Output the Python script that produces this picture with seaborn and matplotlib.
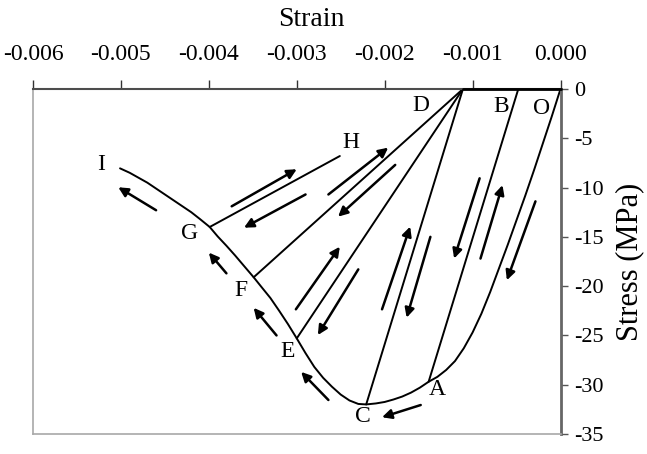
import matplotlib
matplotlib.use("Agg")
import matplotlib.pyplot as plt
import seaborn as sns
import pandas as pd

# ---------------- data ----------------
envelope_strain = [0.0, -0.0001, -0.0002, -0.0003, -0.0004, -0.0005, -0.0006, -0.0007,
                   -0.0008, -0.0009, -0.0010, -0.0011, -0.0012, -0.0013, -0.0014, -0.0015,
                   -0.0016, -0.0017, -0.0018, -0.0019, -0.0020, -0.0021, -0.00221,
                   -0.0023, -0.0024, -0.0025, -0.0026, -0.0027, -0.0028, -0.0029, -0.0030,
                   -0.0031, -0.0032, -0.0033, -0.0034, -0.00349, -0.0036, -0.0037, -0.0038,
                   -0.0039, -0.00399, -0.0041, -0.0042, -0.0043, -0.0044, -0.0045, -0.0046,
                   -0.0047, -0.0048, -0.0049, -0.00501]
envelope_stress = [0.0, -2.8, -5.5, -8.2, -10.8, -13.3, -15.8, -18.2,
                   -20.6, -22.8, -24.7, -26.3, -27.6, -28.5, -29.2, -29.7,
                   -30.3, -30.8, -31.2, -31.5, -31.75, -31.9, -32.0,
                   -31.95, -31.6, -31.0, -30.2, -29.3, -28.2, -26.8, -25.3,
                   -23.85, -22.5, -21.2, -20.1, -19.1, -17.95, -16.9, -15.9,
                   -14.95, -14.0, -13.2, -12.5, -11.9, -11.3, -10.7, -10.1,
                   -9.5, -9.0, -8.5, -8.05]

# unloading / reloading branches: (start, end)
branch_names = ["AB", "CD", "ED", "FD", "GH", "DO"]
branch_strain = [(-0.0015, -0.00048), (-0.00221, -0.00111), (-0.0030, -0.00111),
                 (-0.00349, -0.00111), (-0.00399, -0.00251), (-0.00111, 0.0)]
branch_stress = [(-29.7, 0.0), (-32.0, 0.0), (-25.3, 0.0),
                 (-19.1, 0.0), (-14.0, -6.8), (0.0, 0.0)]

point_labels = ["O", "A", "B", "C", "D", "E", "F", "G", "H", "I"]
label_strain = [-0.00021, -0.0014, -0.00068, -0.00225, -0.00159, -0.00311,
                -0.00363, -0.00422, -0.00238, -0.00522]
label_stress = [-1.96, -30.5, -1.8, -33.2, -1.72, -26.65, -20.4, -14.7, -5.4, -7.64]

# loading-direction arrows: tail (strain, stress) -> head (strain, stress)
arrow_tail = [(-0.000285, -11.4), (-0.00091, -17.2), (-0.00092, -9.06), (-0.00203, -22.35),
              (-0.00148, -15.0), (-0.00301, -22.35), (-0.0023, -18.3), (-0.00264, -10.7),
              (-0.00188, -7.7), (-0.00374, -11.9), (-0.0029, -10.7), (-0.0046, -12.3),
              (-0.0038, -18.7), (-0.00323, -25.0), (-0.00264, -31.55), (-0.00159, -32.06)]
arrow_head = [(-0.00061, -19.4), (-0.00066, -9.75), (-0.00121, -17.2), (-0.00171, -13.96),
              (-0.00175, -23.2), (-0.00251, -16.0), (-0.00276, -24.96), (-0.00196, -5.95),
              (-0.00253, -12.95), (-0.0030, -8.14), (-0.0036, -14.07), (-0.00503, -9.97),
              (-0.0040, -16.6), (-0.00349, -22.2), (-0.00295, -28.7), (-0.00203, -33.3)]

x_ticks = [-0.006, -0.005, -0.004, -0.003, -0.002, -0.001, 0.0]
y_ticks = [0, -5, -10, -15, -20, -25, -30, -35]

# ---------------- build tidy table ----------------
rows = []
for i, (sx, sy) in enumerate(zip(envelope_strain, envelope_stress)):
    rows.append({"segment": "envelope", "order": i, "strain": sx, "stress": sy})
for name, sx, sy in zip(branch_names, branch_strain, branch_stress):
    for j in range(2):
        rows.append({"segment": name, "order": j, "strain": sx[j], "stress": sy[j]})
df = pd.DataFrame(rows)

# ---------------- plot ----------------
sns.set_theme(style="white")
plt.rcParams["font.family"] = ["Liberation Serif", "DejaVu Serif"]
plt.rcParams["axes.unicode_minus"] = False

fig = plt.figure(figsize=(6.47, 4.54), dpi=100)
ax = fig.add_axes([33 / 647, 20 / 454, 527.5 / 647, 345 / 454])

env = df[df.segment == "envelope"]
sns.lineplot(data=env, x="strain", y="stress", sort=False, estimator=None,
             color="black", lw=1.4, ax=ax)
br = df[df.segment != "envelope"]
sns.lineplot(data=br[br.segment != "DO"], x="strain", y="stress", units="segment",
             sort=False, estimator=None, color="black", lw=1.4, ax=ax)
sns.lineplot(data=br[br.segment == "DO"], x="strain", y="stress", sort=False,
             estimator=None, color="black", lw=2.0, ax=ax, clip_on=False, zorder=5)

for t, h in zip(arrow_tail, arrow_head):
    ax.annotate("", xy=h, xytext=t,
                arrowprops=dict(arrowstyle="-|>", color="black", lw=1.8,
                                mutation_scale=14, shrinkA=0, shrinkB=0))

for lab, sx, sy in zip(point_labels, label_strain, label_stress):
    ax.text(sx, sy, lab, ha="center", va="center", fontsize=17, color="black")

ax.set_xlim(-0.006, 0.0)
ax.set_ylim(-35, 0)
ax.set_xticks(x_ticks)
ax.set_xticklabels([f"{v:.3f}" for v in x_ticks])
ax.set_yticks(y_ticks)
ax.set_yticklabels([f"{v:d}" for v in y_ticks])

ax.xaxis.tick_top()
ax.xaxis.set_label_position("top")
ax.yaxis.tick_right()
ax.yaxis.set_label_position("right")

ax.tick_params(axis="x", direction="out", length=6.5, width=1.0, colors="#333333",
               labelsize=17, pad=11, labelcolor="black")
ax.tick_params(axis="y", direction="out", length=5, width=1.0, colors="#555555",
               labelsize=16, pad=5, labelcolor="black")

ax.set_xlabel("Strain", fontsize=20, color="black")
ax.set_ylabel("Stress (MPa)", fontsize=22, color="black", rotation=90)
ax.xaxis.set_label_coords(0.527, 1.2)
ax.xaxis.label.set_va("center")
ax.yaxis.set_label_coords(1.132, 0.5)
ax.yaxis.label.set_va("center")
ax.yaxis.label.set_ha("center")

for side in ["left", "bottom"]:
    ax.spines[side].set_color("#a8a8a8")
    ax.spines[side].set_linewidth(1.2)
ax.spines["top"].set_color("#4d4d4d")
ax.spines["top"].set_linewidth(1.5)
ax.spines["right"].set_color("#666666")
ax.spines["right"].set_linewidth(2.0)

if ax.get_legend() is not None:
    ax.get_legend().remove()

fig.savefig("out.png", dpi=100)
